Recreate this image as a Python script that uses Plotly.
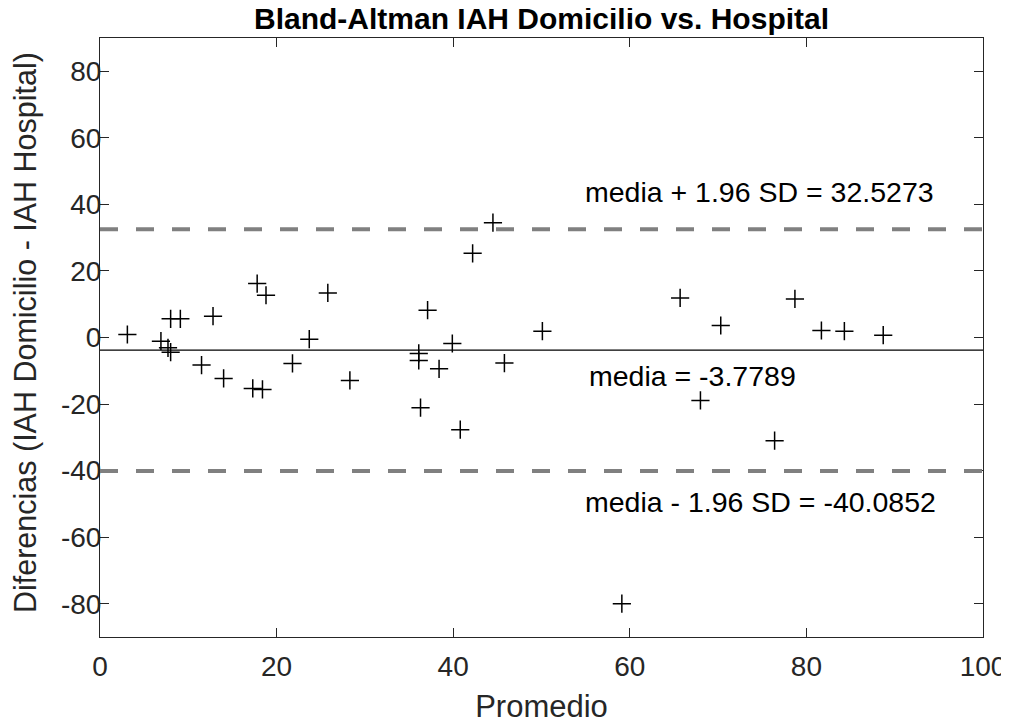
import plotly.graph_objects as go

promedio = [3.1, 6.9, 7.7, 8.0, 8.0, 9.1, 12.8, 11.5, 14.0, 17.3, 18.4, 17.8, 18.8,
            21.8, 23.7, 25.8, 28.3,
            44.5, 42.2, 37.1, 39.9, 50.1, 36.1, 36.1, 38.4, 45.8, 36.3, 40.8,
            65.7, 70.3, 78.7, 81.7, 84.3, 88.7, 68.0, 76.4, 59.1]
diferencias = [0.9, -1.1, -3.1, -4.4, 5.6, 5.6, 6.4, -8.3, -12.3, -15.3, -15.6, 16.2, 12.7,
               -7.8, -0.5, 13.4, -12.9,
               34.5, 25.3, 8.2, -1.8, 1.9, -4.8, -6.9, -9.4, -7.7, -21.1, -27.7,
               11.9, 3.6, 11.6, 2.1, 1.9, 0.7, -18.9, -31.0, -80.0]
media = -3.7789
lim_sup = 32.5273
lim_inf = -40.0852

x_ticks = [0, 20, 40, 60, 80, 100]
y_ticks = [-80, -60, -40, -20, 0, 20, 40, 60, 80]
y_tick_labels = ["-80", "-60", "-40", "-20", "0", "20", "40", "60", "80"]

FONT = "Liberation Sans, Arial, sans-serif"
AX = "#262626"

fig = go.Figure()
fig.add_trace(go.Scatter(
    x=promedio, y=diferencias, mode="markers",
    marker=dict(symbol="cross-thin", size=13, line=dict(color="black", width=1.5)),
    showlegend=False, hoverinfo="x+y"))

for yv, dash, col, w in [(lim_sup, "18px,18px", "#808080", 4),
                         (media, "solid", "black", 1.2),
                         (lim_inf, "18px,18px", "#808080", 4)]:
    fig.add_shape(type="line", xref="paper", yref="y", x0=0, x1=1, y0=yv, y1=yv,
                  line=dict(color=col, width=w, dash=dash))

anns = [(54.7, 43.6, "media + 1.96 SD = %.4f" % lim_sup),
        (55.2, -11.7, "media = %.4f" % media),
        (54.7, -49.3, "media - 1.96 SD = %.4f" % lim_inf)]
for x, y, t in anns:
    fig.add_annotation(x=x, y=y, text=t, showarrow=False, xanchor="left", yanchor="middle",
                       font=dict(family=FONT, size=28.5, color="black"))

# y-axis title
fig.add_annotation(x=-0.085, y=0.509, xref="paper", yref="paper",
                   text="Diferencias (IAH Domicilio - IAH Hospital)", textangle=-90,
                   showarrow=False, xanchor="center", yanchor="middle",
                   font=dict(family=FONT, size=30.5, color=AX))

axis_common = dict(showline=True, linecolor=AX, linewidth=1, mirror="allticks",
                   ticks="inside", ticklen=9, tickwidth=1, tickcolor=AX,
                   showgrid=False, zeroline=False, automargin=False,
                   tickfont=dict(family=FONT, size=28, color=AX))

fig.update_layout(
    width=1001, height=724,
    margin=dict(l=92, r=26, t=30, b=95, autoexpand=False),
    paper_bgcolor="white", plot_bgcolor="white",
    title=dict(text="<b>Bland-Altman IAH Domicilio vs. Hospital</b>", x=0.533, xanchor="center",
               y=1.0, yanchor="top", font=dict(family=FONT, size=30, color="black")),
    xaxis=dict(range=[0, 100], tickvals=x_ticks, ticklabelstandoff=4,
               title=dict(text="Promedio", font=dict(family=FONT, size=31, color=AX), standoff=14),
               **axis_common),
    yaxis=dict(range=[-90, 90], tickvals=y_ticks, ticktext=y_tick_labels, ticklabelstandoff=-8,
               **axis_common),
)

fig.write_html("out.html", config={"displayModeBar": False})
